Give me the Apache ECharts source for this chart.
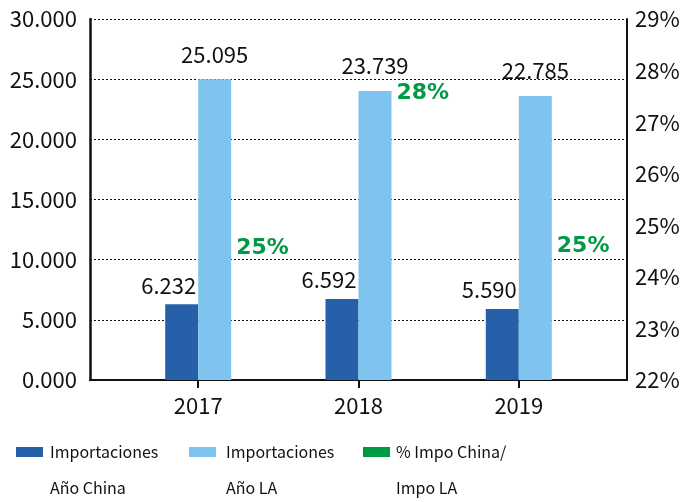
<!DOCTYPE html>
<html>
<head>
<meta charset="utf-8">
<script src="https://cdn.jsdelivr.net/npm/echarts@6/dist/echarts.min.js"></script>
<style>
  html, body { margin: 0; padding: 0; background: #fff; }
  #chart { width: 694px; height: 502px; }
</style>
</head>
<body>
<div id="chart"></div>
<script>
// datos
var years = ['2017', '2018', '2019'];
// alturas de las barras tal como están dibujadas
var impChina = [6290, 6730, 5900];       // Importaciones Año China
var impLA = [24990, 24020, 23600];       // Importaciones Año LA
// etiquetas impresas sobre las barras
var impChinaText = ['6.232', '6.592', '5.590'];
var impLAText = ['25.095', '23.739', '22.785'];
var pctChina = [24.55, 27.55, 24.6];     // % Impo China / Impo LA
var names = ['Importaciones\nAño China', 'Importaciones\nAño LA', '% Impo China/\nImpo LA'];
var colors = ['#2660a8', '#7fc4ee', '#009a44'];

var chart = echarts.init(document.getElementById('chart'));

var font = 'Noto Sans CJK SC';

function pairs(arr) {
  return arr.map(function (v, i) { return [i, v]; });
}

// leyenda: una por serie, icono alineado con la primera línea
function legendAt(left, name, gap) {
  return {
    left: left,
    top: 398,
    padding: 0,
    icon: 'rect',
    itemWidth: 27,
    itemHeight: 10,
    selectedMode: false,
    data: [name],
    formatter: function (n) { return ' \n' + n; },
    textStyle: {
      fontFamily: font,
      fontSize: 16,
      color: '#111',
      lineHeight: 36,
      padding: [0, 0, 0, gap]
    }
  };
}

var option = {
  animation: false,
  color: colors,
  grid: { left: 90, right: 67, top: 19, bottom: 122 },
  legend: [
    legendAt(16, names[0], 2),
    legendAt(189, names[1], 5),
    legendAt(363, names[2], 1)
  ],
  xAxis: {
    type: 'value',
    min: -0.675,
    max: 2.675,
    splitLine: { show: false },
    axisLine: { show: true, onZero: false, lineStyle: { color: '#111', width: 2 } },
    axisTick: { show: true, customValues: [0, 1, 2], length: 8, lineStyle: { color: '#111', width: 2 } },
    axisLabel: {
      customValues: [0, 1, 2],
      margin: 15,
      fontFamily: font,
      fontSize: 22,
      color: '#111',
      formatter: function (v) { return years[Math.round(v)]; }
    }
  },
  yAxis: [
    {
      type: 'value',
      min: 0,
      max: 30000,
      interval: 5000,
      axisLine: { show: true, onZero: false, lineStyle: { color: '#111', width: 2.5 } },
      axisTick: { show: false },
      axisLabel: {
        margin: 13,
        fontFamily: font,
        fontSize: 22,
        color: '#111',
        formatter: function (v) { return (v / 1000).toFixed(3); }
      },
      splitLine: { show: true, lineStyle: { color: '#111', type: [2, 2], width: 1 } }
    },
    {
      type: 'value',
      min: 22,
      max: 29,
      interval: 1,
      axisLine: { show: true, onZero: false, lineStyle: { color: '#111', width: 2 } },
      axisTick: { show: false },
      axisLabel: {
        margin: 8,
        fontFamily: font,
        fontSize: 22,
        color: '#111',
        formatter: '{value}%'
      },
      splitLine: { show: false }
    }
  ],
  series: [
    {
      name: names[0],
      type: 'bar',
      barWidth: 33,
      barGap: '0%',
      z: 3,
      data: pairs(impChina),
      itemStyle: { color: colors[0] },
      label: {
        show: true,
        position: 'top',
        distance: 8,
        offset: [-13, 0],
        fontFamily: font,
        fontSize: 22,
        color: '#111',
        formatter: function (p) { return impChinaText[p.dataIndex]; }
      }
    },
    {
      name: names[1],
      type: 'bar',
      barWidth: 33,
      barGap: '0%',
      z: 3,
      data: pairs(impLA),
      itemStyle: { color: colors[1] },
      label: {
        show: true,
        position: 'top',
        distance: 14,
        fontFamily: font,
        fontSize: 22,
        color: '#111',
        formatter: function (p) { return impLAText[p.dataIndex]; }
      }
    },
    {
      name: names[2],
      type: 'scatter',
      yAxisIndex: 1,
      symbolSize: 0,
      data: pairs(pctChina),
      itemStyle: { color: colors[2], opacity: 1 },
      label: {
        show: true,
        position: 'right',
        distance: 38,
        fontFamily: 'DejaVu Sans',
        fontWeight: 'bold',
        fontSize: 22,
        color: colors[2],
        formatter: function (p) { return Math.round(p.value[1]) + '%'; }
      }
    }
  ]
};

chart.setOption(option);
</script>
</body>
</html>
